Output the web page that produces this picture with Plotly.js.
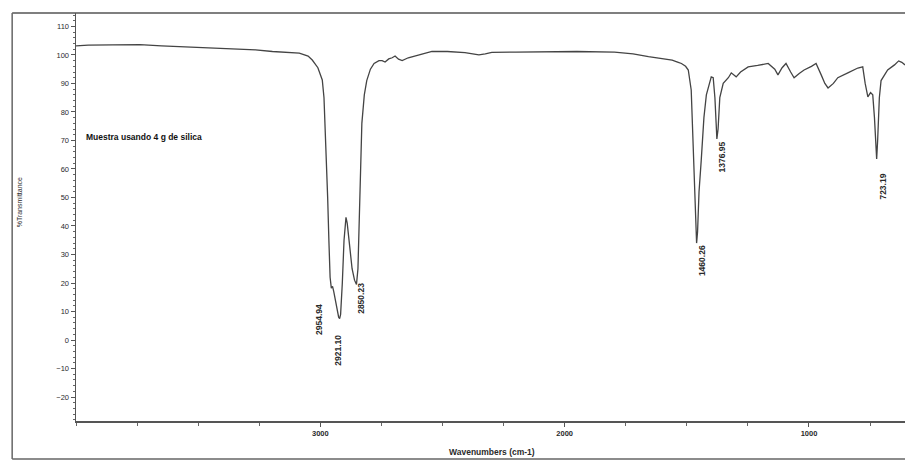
<!DOCTYPE html>
<html>
<head>
<meta charset="utf-8">
<script src="https://cdn.plot.ly/plotly-3.0.1.min.js"></script>
<style>html,body{margin:0;padding:0;background:#fff}#chart{width:905px;height:461px}</style>
</head>
<body>
<div id="chart"></div>
<script>
// Spectrum (wavenumber in cm-1, %Transmittance)
var wavenumbers = [4000,3950,3850,3739,3650,3550,3469,3380,3265,3196,3130,3086,3050,3033,3010,2992,2985,2978,2970,2965,2960,2955,2950,2945,2935,2925,2921,2917,2910,2903,2895,2890,2880,2870,2860,2852,2846,2840,2835,2830,2820,2810,2795,2780,2760,2747,2735,2720,2706,2694,2680,2665,2640,2612,2580,2543,2480,2408,2370,2351,2325,2298,2200,2065,1950,1796,1720,1657,1600,1560,1535,1522,1505,1494,1482,1477,1473,1468,1463,1460,1456,1450,1441,1430,1420,1412,1400,1392,1385,1380,1377,1372,1365,1351,1330,1318,1298,1280,1249,1210,1167,1140,1127,1110,1094,1075,1061,1040,1020,990,971,950,935,922,900,882,860,841,800,780,770,759,748,739,732,727,723,719,712,705,678,650,633,620,607];
var transmittance = [103.2,103.4,103.5,103.6,103.2,102.9,102.6,102.2,101.8,101.2,100.8,100.6,99.6,98.2,95.5,91.2,85,70,50,35,22,18.2,18.8,17,12,8,7.5,9,20,35,43,41,33,25,21,19.5,25,45,65,76,86,91,95,97,98,98,97.5,98.6,99,99.6,98.5,98,99,99.6,100.5,101.2,101.2,100.8,100.3,100,100.4,100.9,101,101.2,101.2,101,100.4,99.4,98.8,98.2,97.4,97,96,94.7,87.7,75,60.7,48,37,34,38,52,63,78,86,88.5,92.3,92,85,76,70.5,74,85,90,92,93.7,92.3,94,95.8,96.3,97,95,93,95.5,97,94,92,93.5,94.7,96,97,93,90,88.4,90,92,93,93.7,95.4,95.8,90,85.3,86.8,86,78,68,63.5,70,85,91,94.7,96.5,97.9,97.4,96.5];

// Peak labels
var peakPositions = [2954.94, 2921.10, 2850.23, 1460.26, 1376.95, 723.19];
var peakValues = [18.2, 7.5, 19.5, 34, 70.5, 63.5];
var peakLabels = ["2954.94", "2921.10", "2850.23", "1460.26", "1376.95", "723.19"];

var xTickValues = [3000, 2000, 1000];
var xTickLabels = ["3000", "2000", "1000"];

var sampleLabel = "Muestra usando 4 g de silica";

var peakShifts = [[-13,-14],[-1,-14],[4,4],[5,0],[5,0],[6,-13]];

var textColor = "#2a2a2a";
var fontFam = "Liberation Sans, Arial, sans-serif";

var annotations = peakLabels.map(function(lbl, i){
  return {
    x: peakPositions[i], y: peakValues[i], xref: "x", yref: "y",
    text: lbl, showarrow: false, textangle: -90,
    xanchor: "center", yanchor: "top",
    xshift: peakShifts[i][0], yshift: peakShifts[i][1],
    font: {family: fontFam, size: 8.5, color: textColor, weight: "bold"}
  };
});
annotations.push({
  x: 3968, y: 71.2, xref: "x", yref: "y", xanchor: "left", yanchor: "middle",
  text: sampleLabel, showarrow: false,
  font: {family: fontFam, size: 8.5, color: "#111", weight: "bold"}
});
annotations.push({
  x: -0.068, y: 0.535, xref: "paper", yref: "paper", xanchor: "center", yanchor: "middle",
  text: "%Transmittance", showarrow: false, textangle: -90,
  font: {family: fontFam, size: 7, color: textColor}
});
annotations.push({
  x: 0.502, y: -0.075, xref: "paper", yref: "paper", xanchor: "center", yanchor: "middle",
  text: "Wavenumbers (cm-1)", showarrow: false,
  font: {family: fontFam, size: 8.5, color: textColor, weight: "bold"}
});

var trace = {
  x: wavenumbers, y: transmittance, type: "scatter", mode: "lines",
  line: {color: "#444", width: 1.3}, hoverinfo: "skip"
};

var layout = {
  width: 905, height: 461,
  margin: {l: 76, r: 0, t: 13, b: 40},
  paper_bgcolor: "#ffffff", plot_bgcolor: "#ffffff",
  showlegend: false,
  xaxis: {
    range: [4000, 607], showgrid: false, zeroline: false,
    showline: true, linecolor: "#555", linewidth: 1.5,
    mirror: false,
    tickmode: "array", tickvals: xTickValues, ticktext: xTickLabels,
    ticks: "outside", ticklen: 4, tickcolor: "#555",
    minor: {dtick: 250, tick0: 0, ticks: "outside", ticklen: 3, tickcolor: "#666", showgrid: false},
    tickfont: {family: fontFam, size: 7.5, color: textColor, weight: "bold"}
  },
  yaxis: {
    range: [-28.4, 114.7], showgrid: false, zeroline: false,
    showline: true, linecolor: "#555", linewidth: 1.5,
    dtick: 10, tick0: 0, ticks: "outside", ticklen: 4, tickcolor: "#555",
    minor: {dtick: 2, tick0: 0, ticks: "outside", ticklen: 2, tickcolor: "#666", showgrid: false},
    tickfont: {family: fontFam, size: 7.5, color: textColor}
  },
  annotations: annotations,
  shapes: [
    {type: "line", xref: "paper", yref: "paper", x0: -0.077, x1: 1.01, y0: 1, y1: 1, line: {color: "#555", width: 1.5}},
    {type: "line", xref: "paper", yref: "paper", x0: -0.077, x1: -0.077, y0: 1, y1: -0.093, line: {color: "#666", width: 1.5}},
    {type: "line", xref: "paper", yref: "paper", x0: -0.077, x1: 1.01, y0: -0.093, y1: -0.093, line: {color: "#666", width: 1.5}}
  ]
};

Plotly.newPlot("chart", [trace], layout, {staticPlot: true, displayModeBar: false});
</script>
</body>
</html>
